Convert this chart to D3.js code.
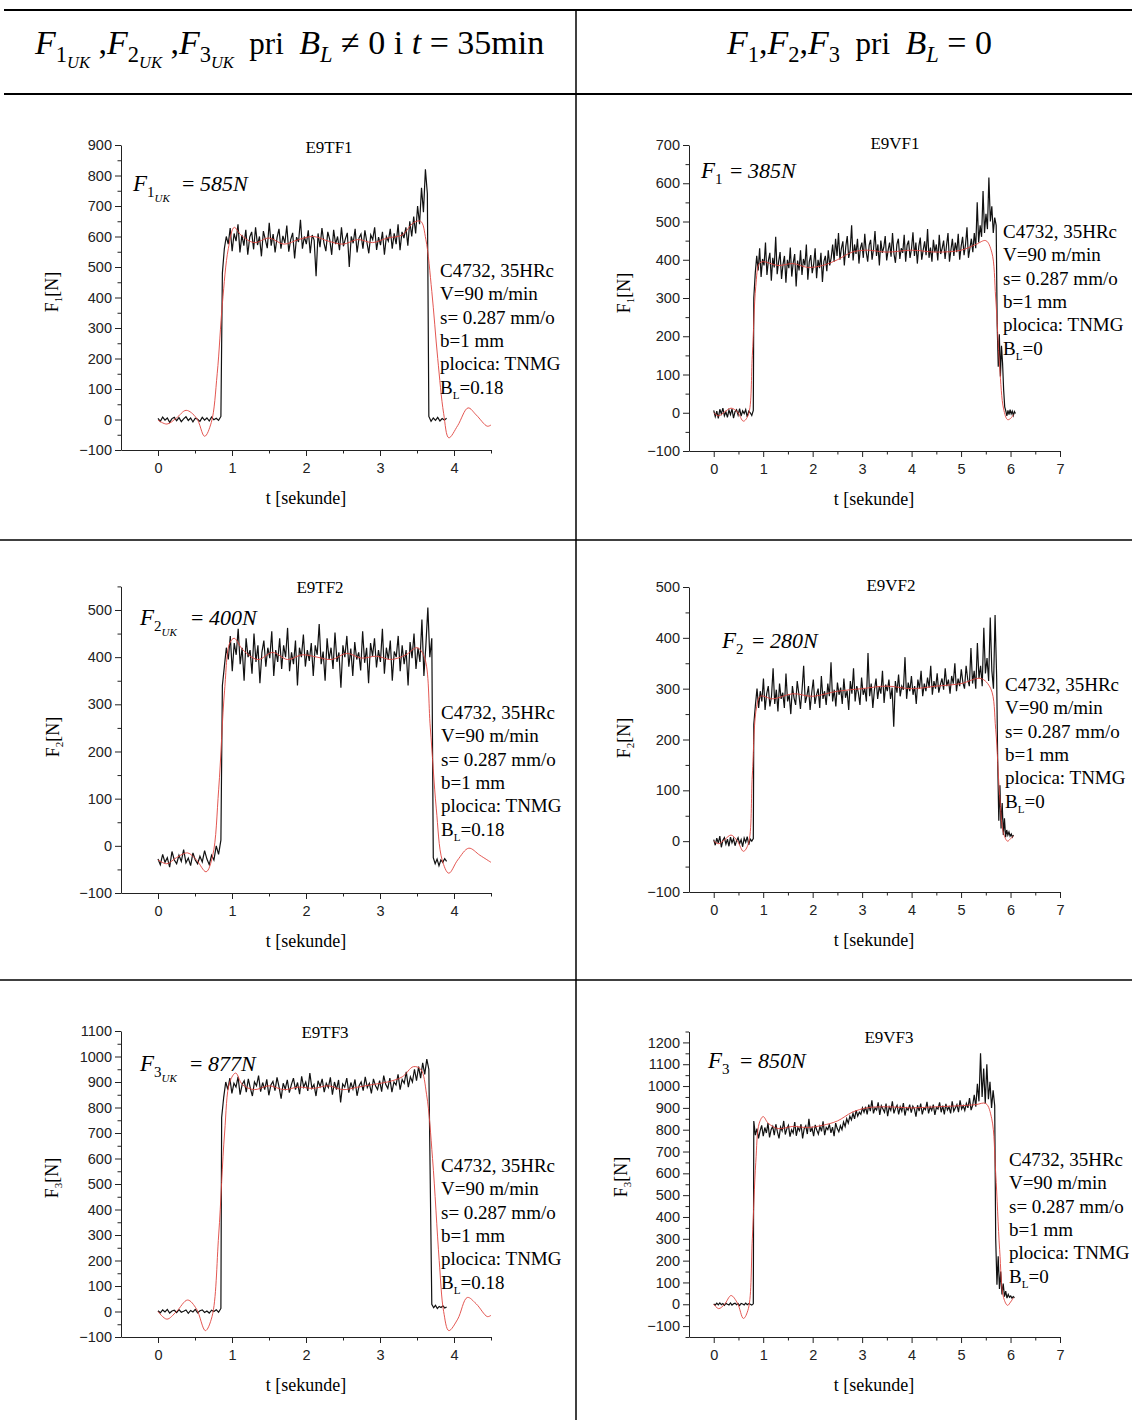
<!DOCTYPE html>
<html><head><meta charset="utf-8">
<script src="https://cdn.jsdelivr.net/npm/d3@7"></script>
<style>body{margin:0;background:#fff}</style>
</head><body>
<svg id="c" width="1132" height="1420"></svg>
<script>
// ---------------- DATA ----------------
const xTicksTF = [0, 1, 2, 3, 4];
const xTicksVF = [0, 1, 2, 3, 4, 5, 6, 7];
const yTicksTF1 = [-100, 0, 100, 200, 300, 400, 500, 600, 700, 800, 900];
const yTicksVF1 = [-100, 0, 100, 200, 300, 400, 500, 600, 700];
const yTicksTF2 = [-100, 0, 100, 200, 300, 400, 500];
const yTicksVF2 = [-100, 0, 100, 200, 300, 400, 500];
const yTicksTF3 = [-100, 0, 100, 200, 300, 400, 500, 600, 700, 800, 900, 1000, 1100];
const yTicksVF3 = [-100, 0, 100, 200, 300, 400, 500, 600, 700, 800, 900, 1000, 1100, 1200];

// measured signal (black), sampled evenly inside each time window
const tf1Base = [4, -6, 8, -2, 5, -9, 3, 7, -4, 6, -7, 2, 9, -3, 5, -8, 4, 1, -6, 7, -2, 5, -5, 8, -1, 4, -3, 10];
const tf1Plateau = [480, 560, 600, 575, 628, 552, 610, 585, 640, 548, 605, 570, 622, 540, 598, 615, 558, 630, 572, 600, 535, 618, 590, 562, 645, 570, 608, 548, 596, 625, 560, 602, 578, 636, 550, 590, 612, 528, 598, 582, 655, 560, 600, 575, 620, 545, 605, 588, 470, 610, 565, 628, 580, 552, 615, 590, 540, 622, 575, 600, 555, 630, 568, 592, 612, 500, 600, 578, 625, 548, 595, 608, 560, 620, 582, 545, 605, 590, 630, 556, 598, 572, 615, 540, 600, 585, 625, 560, 610, 575, 640, 555, 615, 595, 630, 570, 650, 600, 665, 610, 700, 640, 760, 680, 820, 740];
const tf1Tail = [10, -6, 5, -3, 7, -5, 3, -2, 4];
const tf1FitT = [0, 0.12, 0.25, 0.38, 0.52, 0.63, 0.72, 0.8, 0.87, 0.95, 1.03, 1.12, 1.3, 1.5, 1.7, 1.9, 2.1, 2.3, 2.5, 2.7, 2.9, 3.1, 3.3, 3.45, 3.55, 3.62, 3.7, 3.78, 3.86, 3.93, 4.05, 4.19, 4.3, 4.45, 4.5];
const tf1FitV = [-2, -15, 5, 30, 5, -55, -10, 150, 380, 560, 630, 605, 580, 595, 575, 590, 600, 585, 575, 590, 580, 595, 605, 645, 650, 590, 420, 200, 20, -60, -20, 38, 15, -22, -18];

const vf1Base = [6, -10, 4, -15, 9, -3, 12, -8, 2, -12, 7, -5, 10, -14, 3, 8, -6, 11, -9, 5, -2, 8, -11, 4, 0, -7, 6];
const vf1Plateau = [300, 365, 410, 372, 430, 355, 402, 385, 445, 360, 398, 418, 345, 405, 380, 460, 362, 395, 420, 350, 388, 410, 340, 400, 378, 432, 356, 392, 415, 330, 398, 372, 425, 360, 402, 385, 440, 348, 395, 412, 365, 388, 430, 352, 400, 378, 418, 342, 396, 410, 370, 425, 385, 405,
  440, 395, 455, 410, 470, 400, 430, 448, 385, 435, 462, 405, 425, 490, 398, 440, 415, 455, 390, 430, 445, 405, 468, 420, 395, 438, 452, 400, 428, 475, 410, 440, 385, 450, 418, 432, 462, 398, 425, 445, 408, 470, 415, 392, 440, 455, 402, 430, 418, 465, 395, 438, 450, 405, 428, 472, 410, 445, 390, 435, 458, 400, 425, 448, 412, 480, 405, 432, 395, 452, 420, 440, 398, 465, 415, 430, 450, 402, 438, 470, 395, 425, 455, 410, 445, 420, 468, 400, 435, 460, 412, 440, 485, 405, 430, 455, 420,
  470, 430, 550, 445, 490, 460, 580, 470, 520, 480, 615, 500, 540, 470, 510, 490];
const vf1Tail = [230, 120, 205, 95, 175, 130, 60, 15, 5, -8, 6, -5, 8, -3, 4, -7, 3, -2];
const vf1FitT = [0, 0.1, 0.22, 0.35, 0.48, 0.6, 0.7, 0.78, 0.85, 0.92, 1.0, 1.3, 1.6, 1.9, 2.2, 2.5, 2.8, 3.1, 3.5, 4.0, 4.5, 5.0, 5.3, 5.5, 5.62, 5.7, 5.78, 5.86, 5.94, 6.0, 6.06];
const vf1FitV = [0, -8, 2, 12, 2, -22, -5, 150, 330, 390, 395, 385, 390, 380, 385, 400, 420, 425, 420, 425, 420, 425, 440, 450, 420, 300, 120, 10, -18, -15, -5];

const tf2Base = [-28, -40, -18, -35, -25, -45, -12, -30, -38, -20, -33, -8, -36, -26, -42, -15, -30, -38, -22, -34, -10, -28, -40, -20, -30, 0, -18, 12];
const tf2Plateau = [340, 380, 420, 395, 445, 370, 430, 405, 460, 385, 420, 350, 440, 400, 415, 365, 450, 390, 425, 345, 410, 435, 380, 420, 398, 455, 360, 415, 390, 440, 375, 425, 400, 462, 370, 410, 385, 435, 340, 420, 400, 448, 380, 415, 392, 430, 360, 425, 405, 470, 385, 412, 350, 440, 395, 420, 375, 452, 390, 410, 335, 425, 400, 445, 380, 418, 360, 432, 395, 410, 372, 455, 388, 420, 345, 430, 402, 440, 378, 415, 390, 460, 365, 420, 395, 435, 350, 412, 400, 445, 370, 425, 385, 415, 340, 432, 398, 450, 375, 420, 390, 480, 360, 425, 505, 400, 440];
const tf2Tail = [-25, -38, -28, -42, -30, -35, -27, -33];
const tf2FitT = [0, 0.12, 0.25, 0.4, 0.52, 0.65, 0.74, 0.82, 0.9, 0.97, 1.03, 1.15, 1.35, 1.55, 1.75, 1.95, 2.15, 2.35, 2.55, 2.75, 2.95, 3.15, 3.35, 3.5, 3.6, 3.68, 3.76, 3.84, 3.93, 4.05, 4.2, 4.35, 4.5];
const tf2FitV = [-30, -38, -25, -15, -30, -55, -20, 120, 330, 430, 440, 415, 395, 410, 395, 405, 400, 395, 408, 398, 402, 395, 405, 420, 400, 250, 80, -30, -58, -30, -5, -20, -35];

const vf2Base = [3, -8, 6, -4, 10, -12, 2, 7, -6, 4, -10, 8, -3, 5, -9, 1, 7, -5, 3, -11, 6, -2, 9, -7, 4, 0, 5];
const vf2Plateau = [230, 268, 300, 262, 295, 275, 320, 258, 290, 305, 265, 285, 340, 270, 298, 255, 310, 280, 292, 262, 330, 275, 288, 250, 305, 282, 268, 315, 290, 260, 298, 345, 272, 286, 305, 258, 292, 318, 270, 288, 300, 262, 325, 280, 295, 268, 310, 285, 352, 275, 298, 265, 312, 288, 302, 270, 320, 282, 296, 258, 315, 290, 340, 275, 305, 292, 268, 322, 288, 300, 275, 370, 285, 310, 262, 298, 320, 280, 305, 290, 335, 272, 308, 295, 318, 280, 302, 225, 315, 292, 328, 285, 305, 298, 362, 280, 312, 295, 325, 288, 305, 270, 318, 300, 335, 285, 310, 295, 322, 302, 345, 288, 315, 300, 330, 292, 308, 320, 298, 340, 305, 318, 290, 325, 310, 350, 295, 320, 305, 338, 312, 300, 345, 318, 305, 380, 310, 335, 300, 390, 320, 345, 305, 420, 330, 360, 315, 440, 335, 300, 445, 320];
const vf2Tail = [160, 40, 110, 25, 75, 12, 45, 8, 22, 12, 18, 10, 14, 8, 12];
const vf2FitT = [0, 0.1, 0.22, 0.35, 0.48, 0.6, 0.7, 0.78, 0.86, 0.94, 1.2, 1.6, 2.0, 2.5, 3.0, 3.5, 4.0, 4.5, 5.0, 5.4, 5.6, 5.7, 5.78, 5.86, 5.94, 6.0, 6.06];
const vf2FitV = [0, -5, 3, 12, 0, -20, -5, 130, 260, 285, 280, 290, 285, 295, 300, 305, 300, 305, 310, 320, 300, 220, 90, 15, 0, 5, 10];

const tf3Base = [3, -5, 6, -2, 8, -6, 2, 5, -4, 7, -3, 1, 6, -7, 4, -2, 8, -5, 3, 6, -4, 2, -6, 5, 0, 7, -3, 12];
const tf3Plateau = [760, 840, 900, 870, 915, 855, 895, 880, 920, 850, 890, 905, 860, 912, 875, 845, 900, 885, 925, 862, 898, 870, 910, 848, 888, 902, 866, 918, 880, 835, 895, 872, 908, 858, 890, 915, 870, 898, 852, 922, 880, 900, 865, 935, 875, 890, 845, 905, 882, 912, 860, 895, 878, 918, 850, 900, 870, 908, 820, 892, 880, 915, 858, 898, 872, 910, 846, 885, 900, 866, 920, 878, 895, 855, 912, 885, 870, 905, 862, 925, 890, 875, 915, 860, 900, 888, 930, 870, 910, 895, 940, 880, 920, 900, 950, 905, 960, 915, 975, 930, 990, 950];
const tf3Tail = [28, 15, 24, 12, 20, 16, 22, 14, 18];
const tf3FitT = [0, 0.12, 0.25, 0.4, 0.52, 0.64, 0.73, 0.82, 0.9, 0.97, 1.05, 1.14, 1.3, 1.5, 1.7, 1.9, 2.1, 2.3, 2.5, 2.7, 2.9, 3.1, 3.3, 3.45, 3.55, 3.63, 3.71, 3.8, 3.86, 3.93, 4.05, 4.18, 4.3, 4.45, 4.5];
const tf3FitV = [0, -30, 0, 45, 10, -75, -20, 300, 700, 900, 935, 890, 870, 885, 870, 880, 875, 885, 870, 880, 890, 900, 920, 960, 950, 850, 600, 200, 0, -75, -30, 55, 30, -20, -15];

const vf3Base = [2, -4, 5, -3, 6, -2, 3, -5, 4, 0, -3, 6, -4, 2, 5, -2, 3, -6, 4, 1, -3, 5, -2, 3, 0, -4, 2];
const vf3Plateau = [840, 775, 805, 760, 795, 820, 770, 810, 785, 830, 765, 800, 815, 775, 825, 790, 760, 812, 795, 840, 778, 805, 820, 768, 800, 785, 835, 772, 810, 795, 825, 760, 805, 818, 780, 850, 790, 808, 770, 822, 798, 780, 815, 792, 838, 775, 810, 800, 825, 785, 812, 770, 830, 805, 790, 818,
  800, 835, 815, 850, 830, 862, 845, 875, 850, 890, 862, 880, 870, 900,
  880, 905, 870, 915, 885, 935, 875, 900, 890, 925, 868, 910, 895, 880, 920, 862, 905, 888, 930, 875, 898, 912, 870, 905, 885, 922, 865, 900, 890, 915, 878, 908, 895, 860, 912, 885, 920, 870, 900, 892, 928, 875, 905, 888, 915, 868, 902, 895, 925, 880, 910, 870, 918, 890, 905, 875, 930, 885, 900, 915, 880, 935, 895, 910, 888, 920, 900, 945, 890, 912,
  960, 905, 1010, 930, 1150, 950, 1080, 920, 1100, 940, 1020, 900, 980, 910];
const vf3Tail = [300, 90, 220, 70, 150, 45, 95, 35, 60, 28, 45, 32, 38, 28, 35, 30];
const vf3FitT = [0, 0.1, 0.22, 0.35, 0.48, 0.6, 0.7, 0.78, 0.85, 0.92, 1.0, 1.1, 1.3, 1.6, 1.9, 2.2, 2.5, 2.8, 3.1, 3.5, 4.0, 4.5, 5.0, 5.3, 5.5, 5.62, 5.7, 5.78, 5.86, 5.94, 6.0, 6.06];
const vf3FitV = [0, -20, 0, 40, 5, -65, -20, 300, 650, 830, 860, 830, 805, 815, 810, 820, 840, 880, 900, 905, 900, 905, 910, 915, 920, 850, 600, 250, 30, -5, 10, 30];

const infoLines = ["C4732, 35HRc", "V=90 m/min", "s= 0.287 mm/o", "b=1 mm", "plocica: TNMG"];

// ---------------- LAYOUT ----------------
const SERIF = "'Liberation Serif','Times New Roman',Times,serif";
const SANS = "'Liberation Sans',Arial,Helvetica,sans-serif";
const svg = d3.select('#c');

function rich(parent, x, y, parts, anchor) {
  const t = parent.append('text').attr('x', x).attr('y', y)
    .attr('font-family', SERIF).attr('fill', '#000').style('white-space', 'pre');
  if (anchor) t.attr('text-anchor', anchor);
  let off = 0;
  for (const p of parts) {
    const ts = t.append('tspan').text(p.t).attr('font-size', p.s)
      .attr('font-family', SERIF)
      .attr('font-style', p.i ? 'italic' : 'normal');
    const o = p.o || 0;
    if (o !== off) ts.attr('dy', o - off);
    off = o;
  }
  return t;
}

// table lines
const lines = svg.append('g').attr('stroke', '#000');
lines.append('line').attr('x1', 4).attr('x2', 1132).attr('y1', 10).attr('y2', 10).attr('stroke-width', 2);
lines.append('line').attr('x1', 4).attr('x2', 1132).attr('y1', 94).attr('y2', 94).attr('stroke-width', 2);
lines.append('line').attr('x1', 0).attr('x2', 1132).attr('y1', 540).attr('y2', 540).attr('stroke-width', 1.5);
lines.append('line').attr('x1', 0).attr('x2', 1132).attr('y1', 980).attr('y2', 980).attr('stroke-width', 1.5);
lines.append('line').attr('x1', 576).attr('x2', 576).attr('y1', 10).attr('y2', 1420).attr('stroke-width', 1.5);

// header
const H = 34, HS = 22.5, HSS = 16.5;
const fUK = n => [{t: 'F', i: 1, s: H}, {t: n, s: HS, o: 8}, {t: 'UK', i: 1, s: HSS, o: 14}];
rich(svg, 35, 54, [
  ...fUK('1'), {t: ' ,', s: H}, ...fUK('2'), {t: ' ,', s: H}, ...fUK('3'),
  {t: '  pri  ', s: H - 3}, {t: 'B', i: 1, s: H}, {t: 'L', i: 1, s: HS, o: 8},
  {t: ' \u2260 0 i ', s: H}, {t: 't', i: 1, s: H}, {t: ' = 35min', s: H}
]);
const fN = n => [{t: 'F', i: 1, s: H}, {t: n, s: HS, o: 8}];
rich(svg, 727, 54, [
  ...fN('1'), {t: ',', s: H}, ...fN('2'), {t: ',', s: H}, ...fN('3'),
  {t: '  pri  ', s: H - 3}, {t: 'B', i: 1, s: H}, {t: 'L', i: 1, s: HS, o: 8}, {t: ' = 0', s: H}
]);

const charts = [
  {title: 'E9TF1', tx: 329, ty: 153, idx: '1', uk: true, val: '585N', ax: 133, ay: 191, ex: 182,
   base: tf1Base, bT: [0, 0.85], plat: tf1Plateau, pT: [0.87, 3.64], tail: tf1Tail, lT: [3.66, 3.90],
   fT: tf1FitT, fV: tf1FitV, xd: [-0.5, 4.5], xr: [121, 491], xt: xTicksTF,
   yd: [-100, 900], yr: [450, 145], yt: yTicksTF1, ix: 440, iy: 277, bl: '0.18', lx: 58, ly: 292, ttx: 306},
  {title: 'E9VF1', tx: 895, ty: 149, idx: '1', uk: false, val: '385N', ax: 701, ay: 178, ex: 730,
   base: vf1Base, bT: [0, 0.80], plat: vf1Plateau, pT: [0.81, 5.71], tail: vf1Tail, lT: [5.73, 6.10],
   fT: vf1FitT, fV: vf1FitV, xd: [-0.5, 7], xr: [689, 1060], xt: xTicksVF,
   yd: [-100, 700], yr: [451, 145], yt: yTicksVF1, ix: 1003, iy: 238, bl: '0', lx: 630, ly: 293, ttx: 874},
  {title: 'E9TF2', tx: 320, ty: 593, idx: '2', uk: true, val: '400N', ax: 140, ay: 625, ex: 191,
   base: tf2Base, bT: [0, 0.85], plat: tf2Plateau, pT: [0.87, 3.70], tail: tf2Tail, lT: [3.72, 3.90],
   fT: tf2FitT, fV: tf2FitV, xd: [-0.5, 4.5], xr: [121, 491], xt: xTicksTF,
   yd: [-100, 550], yr: [893, 586.4], yt: yTicksTF2, ix: 441, iy: 719, bl: '0.18', lx: 59, ly: 737, ttx: 306},
  {title: 'E9VF2', tx: 891, ty: 591, idx: '2', uk: false, val: '280N', ax: 722, ay: 648, ex: 752,
   base: vf2Base, bT: [0, 0.80], plat: vf2Plateau, pT: [0.81, 5.72], tail: vf2Tail, lT: [5.74, 6.06],
   fT: vf2FitT, fV: vf2FitV, xd: [-0.5, 7], xr: [689, 1060], xt: xTicksVF,
   yd: [-100, 500], yr: [892, 587], yt: yTicksVF2, ix: 1005, iy: 691, bl: '0', lx: 630, ly: 738, ttx: 874},
  {title: 'E9TF3', tx: 325, ty: 1038, idx: '3', uk: true, val: '877N', ax: 140, ay: 1071, ex: 190,
   base: tf3Base, bT: [0, 0.85], plat: tf3Plateau, pT: [0.86, 3.66], tail: tf3Tail, lT: [3.70, 3.90],
   fT: tf3FitT, fV: tf3FitV, xd: [-0.5, 4.5], xr: [121, 491], xt: xTicksTF,
   yd: [-100, 1100], yr: [1337, 1031], yt: yTicksTF3, ix: 441, iy: 1172, bl: '0.18', lx: 58, ly: 1178, ttx: 306},
  {title: 'E9VF3', tx: 889, ty: 1043, idx: '3', uk: false, val: '850N', ax: 708, ay: 1068, ex: 740,
   base: vf3Base, bT: [0, 0.80], plat: vf3Plateau, pT: [0.81, 5.68], tail: vf3Tail, lT: [5.70, 6.08],
   fT: vf3FitT, fV: vf3FitV, xd: [-0.5, 7], xr: [689, 1060], xt: xTicksVF,
   yd: [-150, 1250], yr: [1337, 1031.5], yt: yTicksVF3, ix: 1009, iy: 1166, bl: '0', lx: 627, ly: 1177, ttx: 874}
];

function spread(vals, t0, t1) {
  const n = vals.length;
  return vals.map((v, i) => [t0 + (t1 - t0) * i / (n - 1), v]);
}
const fmt = d3.format('d');

charts.forEach(c => {
  const g = svg.append('g');
  const x = d3.scaleLinear().domain(c.xd).range(c.xr);
  const y = d3.scaleLinear().domain(c.yd).range(c.yr);
  const axisY = c.yr[0];

  const ymin = [];
  for (let v = c.yt[0] - 50; v <= c.yd[1] + 0.01; v += 100) if (v >= c.yd[0] - 0.01) ymin.push(v);
  const xmin = [];
  for (let v = 0.5; v <= c.xd[1] + 0.01; v += 1) xmin.push(v);

  g.append('g').attr('transform', `translate(${c.xr[0]},0)`)
    .call(d3.axisLeft(y).tickValues(c.yt).tickFormat(fmt).tickSize(6).tickSizeOuter(0).tickPadding(3));
  g.append('g').attr('transform', `translate(${c.xr[0]},0)`)
    .call(d3.axisLeft(y).tickValues(ymin).tickSize(3.5).tickSizeOuter(0).tickFormat(''))
    .select('.domain').remove();
  g.append('g').attr('transform', `translate(0,${axisY})`)
    .call(d3.axisBottom(x).tickValues(c.xt).tickFormat(fmt).tickSize(6).tickSizeOuter(0).tickPadding(7));
  g.append('g').attr('transform', `translate(0,${axisY})`)
    .call(d3.axisBottom(x).tickValues(xmin).tickSize(3.5).tickSizeOuter(0).tickFormat(''))
    .select('.domain').remove();
  g.selectAll('.domain, .tick line').attr('stroke', '#222').attr('stroke-width', 1);
  g.selectAll('.tick text').attr('font-family', SANS).attr('font-size', 14.5).attr('fill', '#222');

  // black measured signal
  const pts = [...spread(c.base, c.bT[0], c.bT[1]), ...spread(c.plat, c.pT[0], c.pT[1]), ...spread(c.tail, c.lT[0], c.lT[1])];
  const line = d3.line().x(d => x(d[0])).y(d => y(d[1]));
  g.append('path').attr('d', line(pts)).attr('fill', 'none').attr('stroke', '#111').attr('stroke-width', 1.2);
  // red fit
  const fit = c.fT.map((t, i) => [t, c.fV[i]]);
  g.append('path').attr('d', line.curve(d3.curveCatmullRom)(fit)).attr('fill', 'none')
    .attr('stroke', '#e0443e').attr('stroke-width', 0.9);

  // title
  g.append('text').attr('x', c.tx).attr('y', c.ty).attr('text-anchor', 'middle')
    .attr('font-family', SERIF).attr('font-size', 17).text(c.title);

  // annotation
  const ap = [{t: 'F', i: 1, s: 23}, {t: c.idx, s: 15, o: 6}];
  if (c.uk) ap.push({t: 'UK', i: 1, s: 11, o: 11});
  rich(g, c.ax, c.ay, ap);
  rich(g, c.ex, c.ay, [{t: '= ', s: 22}, {t: c.val, i: 1, s: 22}]);

  // info block
  infoLines.forEach((s, i) => {
    g.append('text').attr('x', c.ix).attr('y', c.iy + i * 23.3).attr('font-family', SERIF)
      .attr('font-size', 19).style('white-space', 'pre').text(s);
  });
  rich(g, c.ix, c.iy + 5 * 23.3, [{t: 'B', s: 19}, {t: 'L', s: 11, o: 5}, {t: '=' + c.bl, s: 19, o: 0}]);

  // axis titles
  g.append('text').attr('x', c.ttx).attr('y', axisY + 54).attr('text-anchor', 'middle')
    .attr('font-family', SERIF).attr('font-size', 18).text('t [sekunde]');
  const yl = g.append('g').attr('transform', `translate(${c.lx},${c.ly}) rotate(-90)`);
  rich(yl, 0, 0, [{t: 'F', s: 18}, {t: c.idx, s: 11, o: 4}, {t: '[N]', s: 18, o: 0}], 'middle');
});
</script>
</body></html>
